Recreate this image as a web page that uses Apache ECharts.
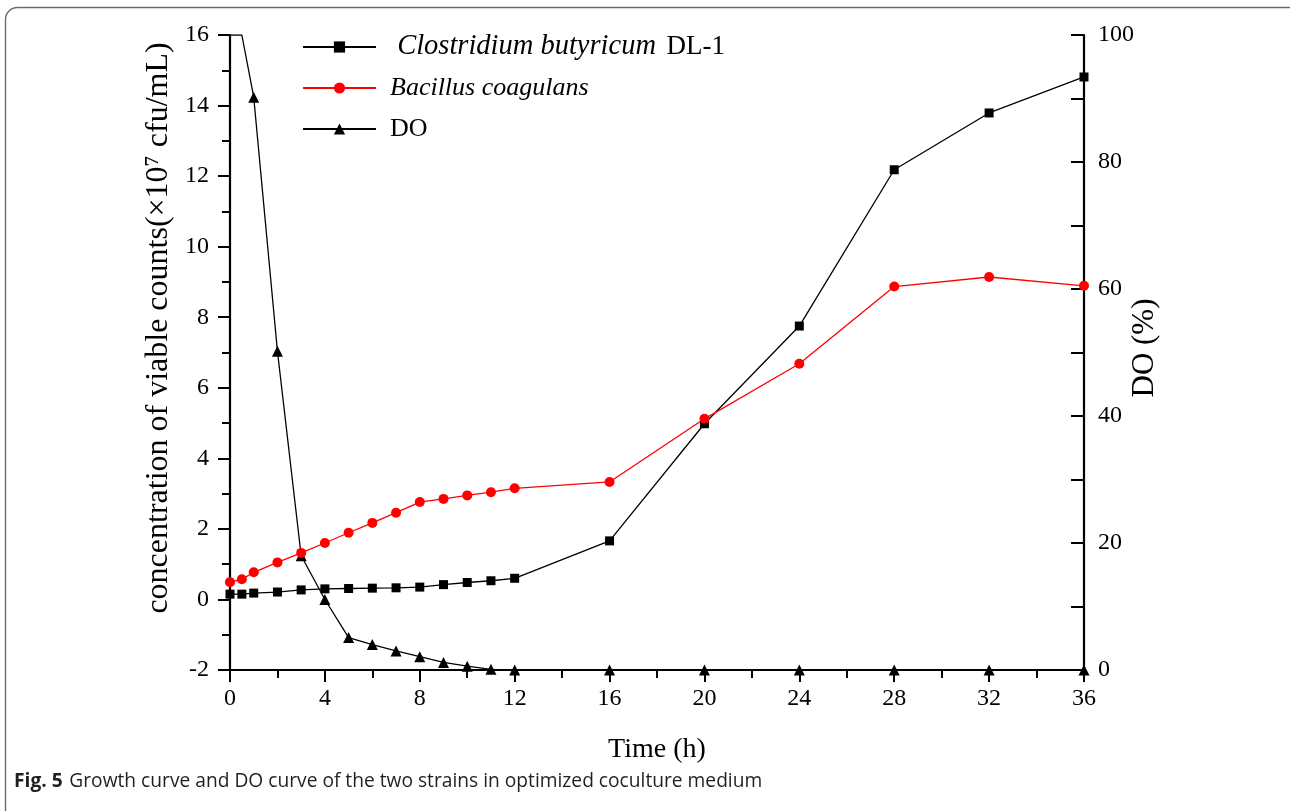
<!DOCTYPE html>
<html>
<head>
<meta charset="utf-8">
<script src="https://cdn.jsdelivr.net/npm/echarts@6/dist/echarts.min.js"></script>
<style>
html,body{margin:0;padding:0;background:#fff;}
#chart{width:1290px;height:811px;}
</style>
</head>
<body>
<div id="chart"></div>
<script>
// Time points (h)
const times = [0, 0.5, 1, 2, 3, 4, 5, 6, 7, 8, 9, 10, 11, 12, 16, 20, 24, 28, 32, 36];
// Clostridium butyricum DL-1 (×10^7 cfu/mL)
const clostridium = [0.15, 0.15, 0.18, 0.21, 0.27, 0.30, 0.31, 0.32, 0.33, 0.35, 0.42, 0.48, 0.53, 0.60, 1.66, 4.98, 7.75, 12.18, 13.79, 14.81];
// Bacillus coagulans (×10^7 cfu/mL)
const bacillus = [0.49, 0.57, 0.77, 1.05, 1.32, 1.60, 1.89, 2.17, 2.46, 2.76, 2.85, 2.95, 3.04, 3.15, 3.33, 5.12, 6.68, 8.87, 9.14, 8.89];
// DO (%)
const dissolvedO2 = [100, 100, 90.2, 50.2, 18.0, 11.1, 5.1, 4.0, 3.0, 2.1, 1.2, 0.6, 0.1, 0, 0, 0, 0, 0, 0, 0];

const seriesNames = ['Clostridium butyricum DL-1', 'Bacillus coagulans', 'DO'];
const xTitle = 'Time (h)';
const yLeftTitle = 'concentration of viable counts(\u00d710\u2077 cfu/mL)';
const yRightTitle = 'DO (%)';
const captionBold = 'Fig. 5';
const captionText = 'Growth curve and DO curve of the two strains in optimized coculture medium';

const serif = 'Liberation Serif';
const pair = (xs, ys) => xs.map((x, i) => [x, ys[i]]);
const doData = times.map((t, i) => dissolvedO2[i] >= 100 ? {value: [t, dissolvedO2[i]], symbol: 'none'} : [t, dissolvedO2[i]]);

const chart = echarts.init(document.getElementById('chart'), null, {renderer: 'canvas'});
chart.setOption({
  backgroundColor: '#fff',
  animation: false,
  grid: {left: 230, right: 206, top: 35, bottom: 141, containLabel: false},
  legend: {
    orient: 'vertical',
    left: 297,
    top: 27,
    padding: 5,
    itemWidth: 73,
    itemHeight: 14,
    itemGap: 11,
    data: seriesNames,
    textStyle: {
      fontFamily: serif, fontSize: 26, color: '#000', lineHeight: 30, padding: [0, 0, 0, 9],
      rich: {
        i: {fontFamily: serif, fontSize: 26, fontStyle: 'italic', color: '#000'},
        i2: {fontFamily: serif, fontSize: 28.5, fontStyle: 'italic', color: '#000'},
        n: {fontFamily: serif, fontSize: 26, color: '#000'},
        n2: {fontFamily: serif, fontSize: 27, color: '#000', padding: [0, 0, 0, 4]}
      }
    },
    formatter: function (name) {
      if (name === seriesNames[0]) return '{i2| Clostridium butyricum} {n2|DL-1}';
      if (name === seriesNames[1]) return '{i|' + name + '}';
      return '{n|' + name + '}';
    }
  },
  xAxis: {
    type: 'value', min: 0, max: 36, interval: 4,
    name: xTitle, nameLocation: 'middle', nameGap: 66,
    nameTextStyle: {fontFamily: serif, fontSize: 28, color: '#000'},
    axisLine: {show: true, onZero: false, lineStyle: {color: '#000', width: 2.2}},
    axisTick: {show: true, inside: false, length: 12, lineStyle: {color: '#000', width: 2}},
    minorTick: {show: true, splitNumber: 2, length: 8, lineStyle: {color: '#000', width: 2}},
    axisLabel: {fontFamily: serif, fontSize: 24, color: '#000', margin: 17},
    splitLine: {show: false}
  },
  yAxis: [
    {
      type: 'value', min: -2, max: 16, interval: 2, position: 'left',
      axisLine: {show: true, onZero: false, lineStyle: {color: '#000', width: 2.2}},
      axisTick: {show: true, inside: false, length: 12, lineStyle: {color: '#000', width: 2}},
      minorTick: {show: true, splitNumber: 2, length: 8, lineStyle: {color: '#000', width: 2}},
      axisLabel: {fontFamily: serif, fontSize: 24, color: '#000', margin: 21},
      splitLine: {show: false}
    },
    {
      type: 'value', min: 0, max: 100, interval: 20, position: 'right',
      axisLine: {show: true, onZero: false, lineStyle: {color: '#000', width: 2.2}},
      axisTick: {show: true, inside: true, length: 13, lineStyle: {color: '#000', width: 2}},
      minorTick: {show: true, splitNumber: 2, length: 13, lineStyle: {color: '#000', width: 2}},
      axisLabel: {fontFamily: serif, fontSize: 24, color: '#000', margin: 14},
      splitLine: {show: false}
    }
  ],
  series: [
    {
      name: seriesNames[0], type: 'line', data: pair(times, clostridium), yAxisIndex: 0,
      symbol: 'rect', symbolSize: 9, color: '#000',
      lineStyle: {color: '#000', width: 1.3}, itemStyle: {color: '#000'}, z: 3
    },
    {
      name: seriesNames[1], type: 'line', data: pair(times, bacillus), yAxisIndex: 0,
      symbol: 'circle', symbolSize: 10, color: '#ff0000',
      lineStyle: {color: '#ff0000', width: 1.3}, itemStyle: {color: '#ff0000'}, z: 3
    },
    {
      name: seriesNames[2], type: 'line', data: doData, yAxisIndex: 1,
      symbol: 'triangle', symbolSize: 11, color: '#000',
      lineStyle: {color: '#000', width: 1.3}, itemStyle: {color: '#000'}, z: 2
    }
  ],
  graphic: [
    {
      type: 'rect', silent: true,
      shape: {x: 5.5, y: 7.5, width: 1320, height: 830, r: 12},
      style: {fill: 'none', stroke: '#6b6b6b', lineWidth: 1.4}
    },
    {
      type: 'text', silent: true, x: 159, y: 328, rotation: Math.PI / 2,
      style: {text: yLeftTitle, fontFamily: serif, fontSize: 32, fill: '#000', textAlign: 'center', textVerticalAlign: 'middle'}
    },
    {
      type: 'text', silent: true, x: 1145, y: 348, rotation: Math.PI / 2,
      style: {text: yRightTitle, fontFamily: serif, fontSize: 31, fill: '#000', textAlign: 'center', textVerticalAlign: 'middle'}
    },
    {
      type: 'text', silent: true, x: 14, y: 782,
      style: {
        text: '{b|' + captionBold + '}  {r|' + captionText + '}',
        rich: {
          b: {fontFamily: 'Open Sans', fontSize: 19.2, fontWeight: 'bold', fill: '#231f20'},
          r: {fontFamily: 'Open Sans', fontSize: 19.2, fill: '#231f20'}
        },
        textVerticalAlign: 'middle'
      }
    }
  ]
});
</script>
</body>
</html>
